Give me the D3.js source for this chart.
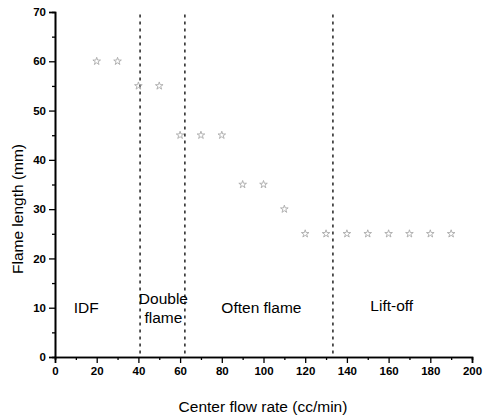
<!DOCTYPE html>
<html>
<head>
<meta charset="utf-8">
<script src="https://cdn.jsdelivr.net/npm/d3@7"></script>
<style>
	body { margin: 0; background: #fff; }
	text { font-family: "Liberation Sans", Arial, sans-serif; }
</style>
</head>
<body>
<div id="chart"></div>
<script>
	// DATA
	const flowRates = [20, 30, 40, 50, 60, 70, 80, 90, 100, 110, 120, 130, 140, 150, 160, 170, 180, 190];
	const flameLengths = [60, 60, 55, 55, 45, 45, 45, 35, 35, 30, 25, 25, 25, 25, 25, 25, 25, 25];
	const boundaries = [40.8, 62.3, 133.3];
	const regionNames = ["IDF", "Double\nflame", "Often flame", "Lift-off"];
	const regionX = [15, 52, 99, 161.5];
	const regionY = [10, 10, 10, 10.3];
	const xTicks = [0, 20, 40, 60, 80, 100, 120, 140, 160, 180, 200];
	const yTicks = [0, 10, 20, 30, 40, 50, 60, 70];

	const width = 486, height = 419;
	const margin = { top: 12, right: 14, bottom: 62, left: 55 };
	const innerWidth = width - margin.left - margin.right;
	const innerHeight = height - margin.top - margin.bottom;

	const svg = d3.select("#chart").append("svg")
		.attr("width", width).attr("height", height);
	const g = svg.append("g").attr("transform", `translate(${margin.left},${margin.top})`);

	const xScale = d3.scaleLinear().domain([0, 200]).range([0, innerWidth]);
	const yScale = d3.scaleLinear().domain([0, 70]).range([innerHeight, 0]);

	// minor ticks (no labels)
	const xMinor = d3.axisBottom(xScale).tickValues(d3.range(10, 200, 20)).tickSize(3);
	const yMinor = d3.axisLeft(yScale).tickValues(d3.range(5, 70, 10)).tickSize(3);
	const xMinorG = g.append("g").attr("transform", `translate(0,${innerHeight})`).call(xMinor);
	const yMinorG = g.append("g").call(yMinor);
	xMinorG.selectAll("text").remove();
	yMinorG.selectAll("text").remove();

	// X axis
	g.append("g").attr("transform", `translate(0,${innerHeight})`)
		.call(d3.axisBottom(xScale).tickValues(xTicks).tickSize(6).tickPadding(4));
	// Y axis
	g.append("g")
		.call(d3.axisLeft(yScale).tickValues(yTicks).tickSize(6).tickPadding(3));

	g.selectAll(".domain").attr("stroke", "#000").attr("stroke-width", 1.6);
	g.selectAll(".tick line").attr("stroke", "#000").attr("stroke-width", 1.3);
	g.selectAll(".tick text")
		.attr("fill", "#000")
		.style("font-size", "11.5px")
		.style("font-weight", "bold");

	// region boundaries
	g.selectAll(".boundary").data(boundaries).enter().append("line")
		.attr("class", "boundary")
		.attr("x1", d => xScale(d)).attr("x2", d => xScale(d))
		.attr("y1", yScale(69.5)).attr("y2", innerHeight)
		.attr("stroke", "#000")
		.attr("stroke-width", 1.3)
		.attr("stroke-dasharray", "3,4");

	// data points
	const data = flowRates.map((x, i) => ({ x: x, y: flameLengths[i] }));
	const star = d3.symbol().type(d3.symbolStar).size(18);
	g.selectAll(".pt").data(data).enter().append("path")
		.attr("class", "pt")
		.attr("d", star)
		.attr("transform", d => `translate(${xScale(d.x)},${yScale(d.y)})`)
		.attr("fill", "none")
		.attr("stroke", "#aaa")
		.attr("stroke-width", 0.9);

	// region labels
	regionNames.forEach((name, i) => {
		const lines = name.split("\n");
		const t = g.append("text")
			.attr("x", xScale(regionX[i]))
			.attr("y", yScale(regionY[i]) + 5 - (lines.length - 1) * 9)
			.attr("text-anchor", "middle")
			.attr("fill", "#000")
			.style("font-size", "15.5px");
		lines.forEach((l, j) => {
			t.append("tspan").attr("x", xScale(regionX[i])).attr("dy", j === 0 ? 0 : 19).text(l);
		});
	});

	// axis titles
	svg.append("text")
		.attr("x", 263)
		.attr("y", 412)
		.attr("text-anchor", "middle")
		.style("font-size", "15.5px")
		.text("Center flow rate (cc/min)");
	svg.append("text")
		.attr("transform", "translate(23,209) rotate(-90)")
		.attr("text-anchor", "middle")
		.style("font-size", "15.5px")
		.text("Flame length (mm)");
</script>
</body>
</html>
